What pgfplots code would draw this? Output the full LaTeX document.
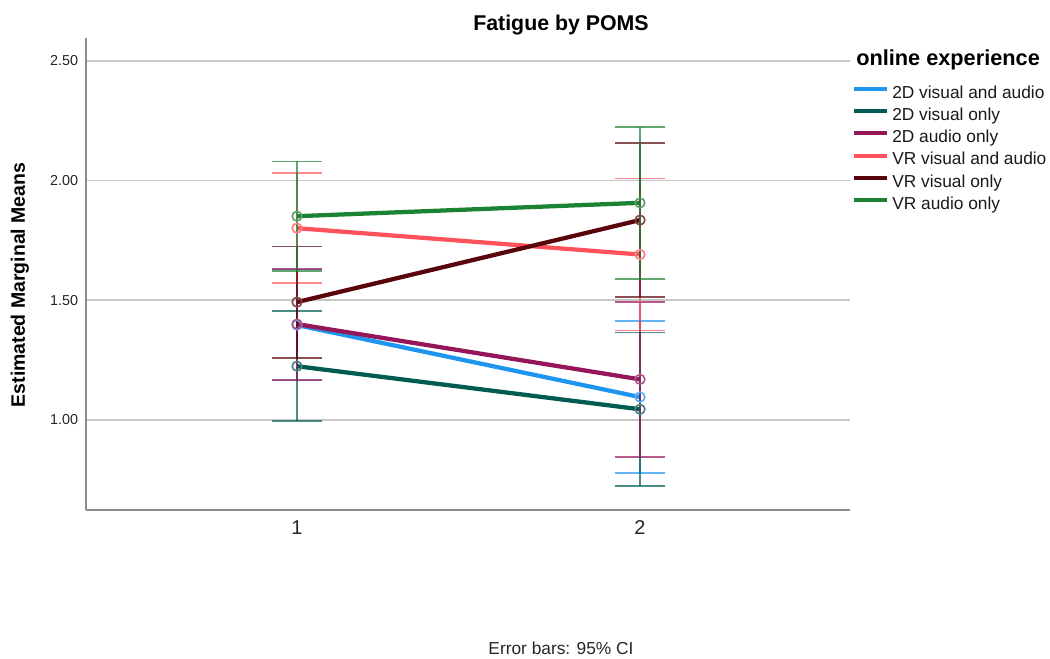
\documentclass[border=0pt]{standalone}
\usepackage{fontspec}
\setmainfont{Liberation Sans}
\usepackage{pgfplots}
\pgfplotsset{compat=1.18}
\usepackage{pgfplotstable}

\definecolor{cBlue}{RGB}{30,150,240}
\definecolor{cTeal}{RGB}{0,92,82}
\definecolor{cPurple}{RGB}{150,22,90}
\definecolor{cRed}{RGB}{255,82,90}
\definecolor{cMaroon}{RGB}{90,5,12}
\definecolor{cGreen}{RGB}{28,130,52}
\definecolor{cAxis}{RGB}{140,140,140}
\definecolor{cGrid}{RGB}{200,200,200}

% x = time, y = estimated marginal mean, e = half width of 95% CI
\pgfplotstableread{
x y e
1 1.396 0.232
2 1.095 0.318
}\tblA
\pgfplotstableread{
x y e
1 1.224 0.230
2 1.044 0.321
}\tblB
\pgfplotstableread{
x y e
1 1.400 0.232
2 1.169 0.324
}\tblC
\pgfplotstableread{
x y e
1 1.801 0.230
2 1.691 0.318
}\tblD
\pgfplotstableread{
x y e
1 1.492 0.232
2 1.835 0.322
}\tblE
\pgfplotstableread{
x y e
1 1.851 0.229
2 1.907 0.317
}\tblF

\pgfplotsset{
  mainline/.style={color=#1, line width=3.2pt, mark=o, mark size=3.6pt,
    mark options={solid, fill=none, line width=1.2pt, draw=#1!75!white}},
  ebar/.style={forget plot, color=#1, draw=none, mark=none,
    error bars/.cd, y dir=both, y explicit, error mark=|,
    error bar style={draw=#1, line width=1.35pt, draw opacity=0.7},
    error mark options={draw=#1, line width=1.35pt, mark size=19pt, draw opacity=0.7}},
}

\begin{document}
\begin{tikzpicture}[x=0.75pt,y=0.75pt]
\path (0,0) rectangle (1050,659);
\begin{axis}[
  at={(64.5pt,111.75pt)}, anchor=south west,
  width=573pt, height=354pt, scale only axis,
  xmin=0.385, xmax=2.612, ymin=0.623, ymax=2.596,
  axis x line=bottom, axis y line=left,
  axis line style={-, cAxis, line width=1.1pt},
  xtick={1,2}, xticklabels={1,2},
  ytick={1,1.5,2,2.5}, yticklabels={1.00,1.50,2.00,2.50},
  major tick length=0pt,
  ymajorgrids, grid style={cGrid, line width=1.3pt},
  xticklabel style={font=\fontsize{15}{15}\selectfont, text=black!85, yshift=-4.5pt},
  yticklabel style={font=\fontsize{10.8}{10.8}\selectfont, text=black!85, xshift=-2.4pt},
  clip=false,
  legend cell align=left,
  legend style={at={(1.0026,0.900)}, anchor=north west, draw=none, fill=none,
    inner sep=0pt, row sep=4.7pt, column sep=2.25pt,
    font=\fontsize{13}{13}\selectfont,
    nodes={inner sep=0pt, text height=9.5pt, text depth=2.5pt, text=black!90}},
  legend image code/.code={\draw[#1, mark=none, line width=3pt] (0pt,3.4pt) -- (24.75pt,3.4pt);},
]
\addplot[mainline=cBlue] table[x=x,y=y] {\tblA};
\addlegendentry{2D visual and audio}
\addplot[mainline=cTeal] table[x=x,y=y] {\tblB};
\addlegendentry{2D visual only}
\addplot[mainline=cPurple] table[x=x,y=y] {\tblC};
\addlegendentry{2D audio only}
\addplot[mainline=cRed] table[x=x,y=y] {\tblD};
\addlegendentry{VR visual and audio}
\addplot[mainline=cMaroon] table[x=x,y=y] {\tblE};
\addlegendentry{VR visual only}
\addplot[mainline=cGreen] table[x=x,y=y] {\tblF};
\addlegendentry{VR audio only}

\addplot[ebar=cBlue] table[x=x,y=y,y error=e] {\tblA};
\addplot[ebar=cTeal] table[x=x,y=y,y error=e] {\tblB};
\addplot[ebar=cPurple] table[x=x,y=y,y error=e] {\tblC};
\addplot[ebar=cRed] table[x=x,y=y,y error=e] {\tblD};
\addplot[ebar=cMaroon] table[x=x,y=y,y error=e] {\tblE};
\addplot[ebar=cGreen] table[x=x,y=y,y error=e] {\tblF};
\end{axis}

\node[font=\fontsize{16}{16}\selectfont\bfseries] at (561,634) {Fatigue by POMS};
\node[font=\fontsize{16.3}{16.3}\selectfont\bfseries, anchor=west, inner sep=0pt] at (856,599) {online experience};
\node[font=\fontsize{14.6}{14.6}\selectfont\bfseries, rotate=90] at (20,374) {Estimated Marginal Means};
\node[font=\fontsize{13}{13}\selectfont, text=black!85] at (561,11) {Error bars: 95\% CI};
\end{tikzpicture}
\end{document}
